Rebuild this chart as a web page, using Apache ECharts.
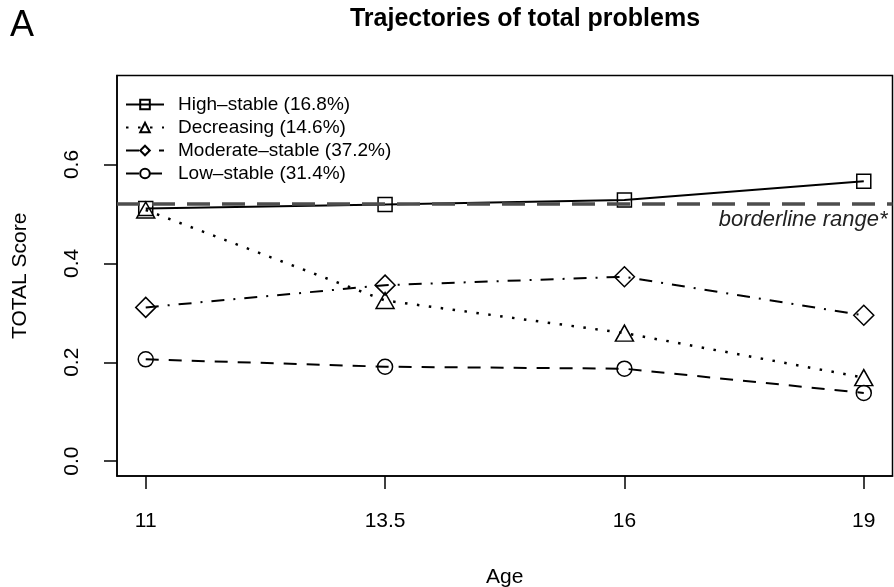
<!DOCTYPE html>
<html>
<head>
<meta charset="utf-8">
<script src="https://cdn.jsdelivr.net/npm/echarts@6/dist/echarts.min.js"></script>
<style>html,body{margin:0;padding:0;background:#fff}#c{width:894px;height:587px}</style>
</head>
<body>
<div id="c"></div>
<script>
var ages = ['11', '13.5', '16', '19'];
var ageIdx = [0, 1, 2, 3];
var seriesNames = ['High\u2013stable (16.8%)', 'Decreasing (14.6%)', 'Moderate\u2013stable (37.2%)', 'Low\u2013stable (31.4%)'];
var highStable = [0.511, 0.519, 0.528, 0.566];
var decreasing = [0.508, 0.325, 0.259, 0.169];
var moderateStable = [0.311, 0.356, 0.373, 0.295];
var lowStable = [0.206, 0.191, 0.187, 0.138];
var borderline = 0.515;
var yTicks = [0, 0.2, 0.4, 0.6];

var FONT = 'Liberation Sans, Arial, Helvetica, sans-serif';
function pts(vals) { return ageIdx.map(function (x, i) { return [x, vals[i]]; }); }
var markerStyle = { color: 'rgba(0,0,0,0)', borderColor: '#000', borderWidth: 1.5 };

function mk(name, vals, symbol, size, lineType, w) {
  return {
    name: name, type: 'line', data: pts(vals), symbol: symbol, symbolSize: size,
    showAllSymbol: true,
    lineStyle: { color: '#000', width: w || 2, type: lineType },
    itemStyle: markerStyle,
    emphasis: { disabled: true },
    z: 3
  };
}

var series = [
  mk(seriesNames[0], highStable, 'rect', 14, 'solid'),
  mk(seriesNames[1], decreasing, 'triangle', [18, 16], [2.5, 9.5], 2.5),
  mk(seriesNames[2], moderateStable, 'diamond', [20, 20], [13, 9, 2, 9]),
  mk(seriesNames[3], lowStable, 'circle', 15, [13, 10])
];
series[0].markLine = {
  silent: true, symbol: 'none', animation: false,
  lineStyle: { color: '#4d4d4d', width: 3.5, type: [23, 12] },
  label: { show: true, position: 'insideEndBottom', distance: 5, formatter: 'borderline range*',
    fontStyle: 'italic', fontSize: 22, color: '#222', fontFamily: FONT },
  data: [{ yAxis: borderline }]
};

var chart = echarts.init(document.getElementById('c'), null, { renderer: 'canvas' });
chart.setOption({
  animation: false,
  backgroundColor: '#fff',
  title: { text: 'Trajectories of total problems', left: 520, top: 2, textAlign: 'center',
    textStyle: { fontSize: 25, fontWeight: 'bold', color: '#000', fontFamily: FONT } },
  graphic: [{ type: 'text', left: 10, top: 8, style: { text: 'A', fontSize: 36, fill: '#000', fontFamily: FONT } }],
  legend: {
    orient: 'vertical', left: 120, top: 88, itemWidth: 38, itemHeight: 12, itemGap: 0,
    data: seriesNames,
    textStyle: { fontSize: 19, color: '#000', fontFamily: FONT, lineHeight: 23, padding: [0, 0, 0, 9] },
    selectedMode: false
  },
  grid: { left: 117, right: 1.5, top: 75.5, bottom: 111, show: true, borderColor: '#000', borderWidth: 1.5,
    outerBoundsMode: 'none', containLabel: false },
  xAxis: {
    type: 'value', min: -0.12, max: 3.12,
    name: 'Age', nameLocation: 'middle', nameGap: 91,
    nameTextStyle: { fontSize: 21, color: '#000', fontFamily: FONT },
    splitLine: { show: false },
    axisLine: { show: true, onZero: false, lineStyle: { color: '#000', width: 1.5 } },
    axisTick: { show: true, length: 13, lineStyle: { color: '#000', width: 1.5 }, customValues: ageIdx },
    axisLabel: { customValues: ageIdx, margin: 35, fontSize: 21, color: '#000', fontFamily: FONT,
      formatter: function (v) { return ages[Math.round(v)]; } }
  },
  yAxis: {
    type: 'value', min: -0.03, max: 0.78,
    name: 'TOTAL Score', nameLocation: 'middle', nameGap: 86, nameRotate: 90,
    nameTextStyle: { fontSize: 21, color: '#000', fontFamily: FONT },
    splitLine: { show: false },
    axisLine: { show: true, onZero: false, lineStyle: { color: '#000', width: 1.5 } },
    axisTick: { show: true, length: 13, lineStyle: { color: '#000', width: 1.5 }, customValues: yTicks },
    axisLabel: { customValues: yTicks, rotate: 90, margin: 34, fontSize: 21, color: '#000', fontFamily: FONT,
      formatter: function (v) { return v.toFixed(1); } }
  },
  series: series
});
</script>
</body>
</html>
